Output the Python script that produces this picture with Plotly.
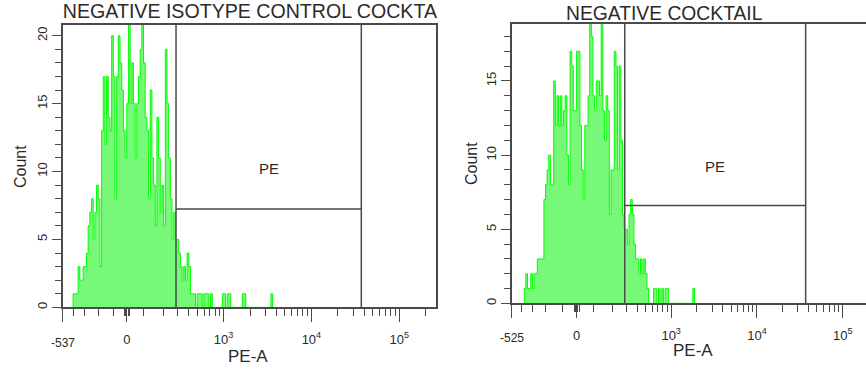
import numpy as np
import plotly.graph_objects as go

# ---------------- data ----------------
BIN_W = 1.68                     # width of one histogram channel (display units)
LEFT_START_BIN = -32
LEFT_COUNTS = [1, 1, 1, 3, 2, 2, 3, 3, 4, 6,
               7, 8, 5, 7, 9, 8, 3, 13, 17, 12,
               17, 14, 13, 20, 17, 8, 17, 20, 18, 16,
               13, 11, 15, 21, 15, 18, 15, 11, 15, 17,
               19, 21, 18, 14, 13, 8, 16, 11, 9, 6,
               14, 11, 7, 9, 6, 19, 15, 11, 8, 5,
               7, 5,
               5, 4, 3, 2, 3, 2, 4, 3, 1, 1, 1, 0, 1, 1, 1, 0, 1, 1, 1, 0, 1,
               0, 0, 0, 0, 0, 0, 1, 1, 0, 1, 1,
               0, 0, 0, 0, 0, 0, 0, 1, 1,
               0, 0, 0, 0, 0, 0, 0, 0, 0, 0, 0, 0, 0, 0, 0, 1]
RIGHT_START_BIN = -32
RIGHT_COUNTS = [1, 2, 1, 1, 2, 1, 2, 2, 3, 3,
                3, 3, 7, 8, 9, 10, 8, 8, 15, 12,
                14, 12, 14, 12, 13, 14, 10, 8, 17, 16,
                13, 13, 17, 17, 12, 9, 7, 12, 12, 14,
                19, 18, 14, 13, 15, 15, 14, 19, 13, 11,
                14, 13, 6, 9, 9, 17, 16, 9, 16, 11,
                6, 5, 5, 4, 6, 7, 6, 4, 3, 3, 2, 3, 2, 3, 2, 1,
                0, 0, 0, 1, 1, 0, 1, 0, 1, 0, 1, 1,
                0, 0, 0, 0, 0, 0, 0, 0, 0, 0, 0, 0, 0, 0, 0, 1]

TITLES = ["NEGATIVE ISOTYPE CONTROL COCKTAIL", "NEGATIVE COCKTAIL"]
X_TITLE = "PE-A"
Y_TITLE = "Count"
GATE_NAME = "PE"
GATE_RANGE = [285, 37000]          # PE gate limits (PE-A values)
GATE_LEVEL = [7.25, 6.6]           # height of gate bar (counts)
X_MIN = [-537, -525]               # lower end of each biexponential axis
X_MAX = [262143, 187000]           # upper end visible
Y_MAX = [20.8, 18.85]
Y_TICKS = [0, 5, 10, 15, 20]
MAJOR_X = [0, 1000, 10000, 100000]
MAJOR_X_TEXT = ["0", "10<sup>3</sup>", "10<sup>4</sup>", "10<sup>5</sup>"]
MINOR_X = [-400, -300, -200, -100, -20, -10, 10, 20,
           100, 200, 300, 400, 500, 600, 700, 800, 900,
           2000, 3000, 4000, 5000, 6000, 7000, 8000, 9000,
           20000, 30000, 40000, 50000, 60000, 70000, 80000, 90000, 200000]

# ---------------- biexponential display transform ----------------
B = np.log(10) / 88.0
D = 0.07
A_POS = 79.0
A_NEG = [100.8, 92.3]


def to_value(x, a_neg):
    ax = abs(x)
    base = np.exp(B * ax) - np.exp(-D * ax)
    return A_POS * base if x >= 0 else -a_neg * base


def to_display(v, a_neg):
    lo, hi = -400.0, 600.0
    for _ in range(100):
        mid = (lo + hi) / 2
        if to_value(mid, a_neg) < v:
            lo = mid
        else:
            hi = mid
    return (lo + hi) / 2


W, H = 866, 373
FONT = "Liberation Sans, Arial, sans-serif"
TXT = "#2a2a2a"
LINE = "#4a4a4a"

# pixel layout of the two panels (left, right, top, bottom)
PANELS = [dict(l=61, r=435, t=25, b=309), dict(l=511, r=866, t=24, b=305)]
LABEL_POS = [dict(xmin_y=345, xt=(247, 358), yt=(18, 167)),
             dict(xmin_y=340, xt=(693, 352), yt=(470, 164))]

fig = go.Figure()
counts_all = [LEFT_COUNTS, RIGHT_COUNTS]
starts = [LEFT_START_BIN, RIGHT_START_BIN]


def ann(**kw):
    base = dict(showarrow=False, xanchor="center", yanchor="middle")
    base.update(kw)
    fig.add_annotation(**base)


for i in range(2):
    sfx = "" if i == 0 else "2"
    c = counts_all[i]
    edges = (starts[i] + np.arange(len(c) + 1)) * BIN_W
    xs = [edges[0]] + list(edges) + [edges[-1]]
    ys = [0] + list(c) + [c[-1], 0]
    fig.add_trace(go.Scatter(
        x=xs, y=ys, mode="lines",
        line=dict(color="#00FF00", width=1, shape="hv"),
        fill="tozeroy", fillcolor="#78F878",
        xaxis="x" + sfx, yaxis="y" + sfx, hoverinfo="skip", showlegend=False))

    p = PANELS[i]
    lp = LABEL_POS[i]
    an = A_NEG[i]
    xr = [to_display(X_MIN[i], an), to_display(X_MAX[i], an)]
    tv = [to_display(X_MIN[i], an)] + [to_display(v, an) for v in MAJOR_X]
    tt = [" "] + MAJOR_X_TEXT
    mv = [to_display(v, an) for v in MINOR_X]
    fig.update_layout(**{
        "xaxis" + sfx: dict(
            domain=[p["l"] / W, p["r"] / W], range=xr, anchor="y" + sfx,
            tickmode="array", tickvals=tv, ticktext=tt,
            ticks="outside", ticklen=13, tickwidth=1.3, tickcolor=LINE,
            minor=dict(tickmode="array", tickvals=mv, ticks="outside",
                       ticklen=7, tickwidth=1.1, tickcolor=LINE),
            showline=True, linecolor=LINE, linewidth=1.5, mirror=True,
            showgrid=False, zeroline=False,
            tickfont=dict(family=FONT, size=13, color=TXT),
            ticklabelstandoff=6),
        "yaxis" + sfx: dict(
            domain=[(H - p["b"]) / H, (H - p["t"]) / H], range=[0, Y_MAX[i]],
            anchor="x" + sfx, tickmode="array", tickvals=Y_TICKS,
            ticks="outside", ticklen=9, tickwidth=1.3, tickcolor=LINE,
            minor=dict(dtick=1, ticks="outside", ticklen=6, tickwidth=1.1,
                       tickcolor=LINE),
            showline=True, linecolor=LINE, linewidth=1.5, mirror=(i == 0),
            showgrid=False, zeroline=False, tickangle=270,
            tickfont=dict(family=FONT, size=13, color=TXT)),
    })

    # gate
    g0 = to_display(GATE_RANGE[0], an)
    g1 = to_display(GATE_RANGE[1], an)
    for gx in (g0, g1):
        fig.add_shape(type="line", xref="x" + sfx, yref="y" + sfx + " domain",
                      x0=gx, x1=gx, y0=0, y1=1, line=dict(color=LINE, width=1.5))
    fig.add_shape(type="line", xref="x" + sfx, yref="y" + sfx,
                  x0=g0, x1=g1, y0=GATE_LEVEL[i], y1=GATE_LEVEL[i],
                  line=dict(color=LINE, width=1.5))
    ann(text=GATE_NAME, xref="x" + sfx, yref="y" + sfx + " domain",
        x=(g0 + g1) / 2, y=0.49, font=dict(family=FONT, size=15, color=TXT))
    # lower axis end label
    ann(text=str(X_MIN[i]), xref="x" + sfx, yref="paper",
        x=to_display(X_MIN[i], an), y=(H - lp["xmin_y"]) / H,
        font=dict(family=FONT, size=12, color=TXT))
    # axis titles
    ann(text=X_TITLE, xref="paper", yref="paper",
        x=lp["xt"][0] / W, y=(H - lp["xt"][1]) / H,
        font=dict(family=FONT, size=17, color=TXT))
    ann(text=Y_TITLE, xref="paper", yref="paper", textangle=-90,
        x=lp["yt"][0] / W, y=(H - lp["yt"][1]) / H,
        font=dict(family=FONT, size=16, color=TXT))

# left title clipped at the edge of its panel (as in the original export)
fig.add_trace(go.Scatter(x=[61 / 437], y=[0.44], mode="text", text=[TITLES[0]],
                         textposition="middle right", cliponaxis=True,
                         textfont=dict(family=FONT, size=19.6, color=TXT),
                         xaxis="x3", yaxis="y3", hoverinfo="skip", showlegend=False))
fig.update_layout(
    xaxis3=dict(domain=[0, 437 / W], range=[0, 1], visible=False, fixedrange=True),
    yaxis3=dict(domain=[(H - 24) / H, 1], range=[0, 1], visible=False, fixedrange=True,
                anchor="x3"),
)
ann(text=TITLES[1], xref="paper", yref="paper", x=664.5 / W, y=(H - 13.5) / H,
    font=dict(family=FONT, size=19.3, color=TXT))

fig.update_layout(width=W, height=H, autosize=False,
                  margin=dict(l=0, r=0, t=0, b=0),
                  paper_bgcolor="white", plot_bgcolor="white", showlegend=False)
fig.write_html("out.html")
